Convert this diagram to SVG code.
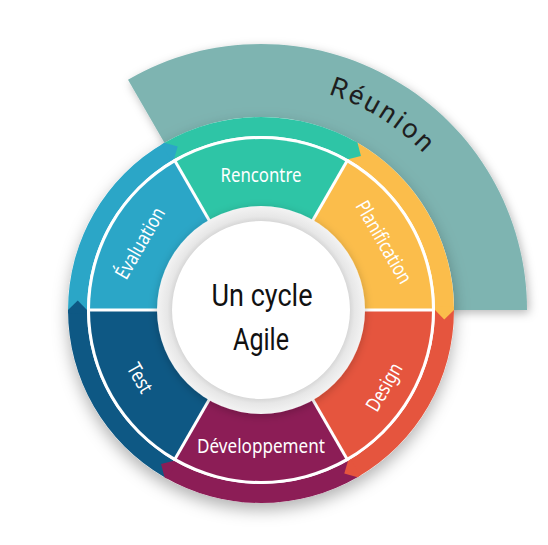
<svg xmlns="http://www.w3.org/2000/svg" xmlns:xlink="http://www.w3.org/1999/xlink" width="548" height="545" viewBox="0 0 548 545">
<style>
.lbl{font-family:"Noto Sans","Open Sans",sans-serif;font-size:20px;fill:#ffffff;text-anchor:middle}
.ctr{font-family:Roboto,"Liberation Sans",sans-serif;font-size:32px;fill:#111111;text-anchor:middle}
.reu{font-family:Roboto,"Liberation Sans",sans-serif;font-size:27px;fill:#1e1e1e;letter-spacing:2.6px}
.sep{stroke:#ffffff;stroke-width:3;fill:none}
</style>
<defs>
<filter id="shT" x="-20%" y="-20%" width="140%" height="140%"><feDropShadow dx="2" dy="3" stdDeviation="5" flood-color="#000" flood-opacity="0.28"/></filter>
<filter id="shW" x="-20%" y="-20%" width="140%" height="150%"><feDropShadow dx="0" dy="7" stdDeviation="8" flood-color="#000" flood-opacity="0.3"/></filter>
<filter id="shC" x="-20%" y="-20%" width="140%" height="140%"><feDropShadow dx="0" dy="2" stdDeviation="4" flood-color="#000" flood-opacity="0.22"/></filter>
<radialGradient id="ring" gradientUnits="userSpaceOnUse" cx="261" cy="310" r="104">
<stop offset="0.84" stop-color="#d2d2d2"/><stop offset="0.9" stop-color="#e7e7e7"/><stop offset="1" stop-color="#f3f3f3"/>
</radialGradient>
<path id="band" d="M164.5,142.86 A193,193 0 0 1 357.5,142.86 L348,159.31 A174,174 0 0 0 174,159.31 Z"/>
<path id="tip" d="M354.57,141.2 L357.5,142.86 L360.94,156.1 L348,159.31 L345.36,157.82 Z"/>
<path id="wedge" d="M261,310 L175.5,161.91 A171,171 0 0 1 346.5,161.91 Z"/>
<path id="reunionArc" d="M229.55,86.2 A226,226 0 0 1 475.9,240.2"/>
</defs>

<g id="reunion">
<path d="M261,310 L527,310 A266,266 0 0 0 128,79.64 Z" fill="#7eb4b1" filter="url(#shT)"/>
<text class="reu"><textPath xlink:href="#reunionArc" href="#reunionArc" startOffset="50%" text-anchor="middle">Réunion</textPath></text>
</g>

<circle cx="261" cy="310" r="193" fill="#ffffff" filter="url(#shW)"/>

<g id="connectors">
<use href="#band" fill="#2ec5a6"/>
<use href="#band" fill="#fbbd4b" transform="rotate(60 261 310)"/>
<use href="#band" fill="#e5553e" transform="rotate(120 261 310)"/>
<use href="#band" fill="#8c1d56" transform="rotate(180 261 310)"/>
<use href="#band" fill="#0e5884" transform="rotate(240 261 310)"/>
<use href="#band" fill="#2ba6c7" transform="rotate(300 261 310)"/>
<use href="#tip" fill="#2ec5a6"/>
<use href="#tip" fill="#fbbd4b" transform="rotate(60 261 310)"/>
<use href="#tip" fill="#e5553e" transform="rotate(120 261 310)"/>
<use href="#tip" fill="#8c1d56" transform="rotate(180 261 310)"/>
<use href="#tip" fill="#0e5884" transform="rotate(240 261 310)"/>
<use href="#tip" fill="#2ba6c7" transform="rotate(300 261 310)"/>
</g>

<circle cx="261" cy="310" r="174" fill="#ffffff"/>

<g id="rencontre">
<use href="#wedge" fill="#2ec5a6"/>
<text class="lbl" x="261" y="182" textLength="81" lengthAdjust="spacingAndGlyphs">Rencontre</text>
</g>
<g id="planification">
<use href="#wedge" fill="#fbbd4b" transform="rotate(60 261 310)"/>
<text class="lbl" transform="translate(384,242) rotate(60)" y="7" textLength="92" lengthAdjust="spacingAndGlyphs">Planification</text>
</g>
<g id="design">
<use href="#wedge" fill="#e5553e" transform="rotate(120 261 310)"/>
<text class="lbl" transform="translate(384,387) rotate(-60)" y="7" textLength="52" lengthAdjust="spacingAndGlyphs">Design</text>
</g>
<g id="developpement">
<use href="#wedge" fill="#8c1d56" transform="rotate(180 261 310)"/>
<text class="lbl" x="261" y="453" textLength="128" lengthAdjust="spacingAndGlyphs">Développement</text>
</g>
<g id="test">
<use href="#wedge" fill="#0e5884" transform="rotate(240 261 310)"/>
<text class="lbl" transform="translate(140,378) rotate(60)" y="7" textLength="31" lengthAdjust="spacingAndGlyphs">Test</text>
</g>
<g id="evaluation">
<use href="#wedge" fill="#2ba6c7" transform="rotate(300 261 310)"/>
<text class="lbl" transform="translate(140,243) rotate(-60)" y="7" textLength="79" lengthAdjust="spacingAndGlyphs">Évaluation</text>
</g>

<g id="separators">
<line class="sep" x1="361" y1="310" x2="435" y2="310"/>
<line class="sep" x1="311" y1="223.4" x2="348" y2="159.31"/>
<line class="sep" x1="211" y1="223.4" x2="174" y2="159.31"/>
<line class="sep" x1="161" y1="310" x2="87" y2="310"/>
<line class="sep" x1="211" y1="396.6" x2="174" y2="460.69"/>
<line class="sep" x1="311" y1="396.6" x2="348" y2="460.69"/>
</g>

<g id="center">
<circle cx="261" cy="310" r="104" fill="url(#ring)" filter="url(#shC)"/>
<circle cx="261" cy="310" r="89" fill="#ffffff"/>
<text class="ctr" x="262" y="306" textLength="101" lengthAdjust="spacingAndGlyphs">Un cycle</text>
<text class="ctr" x="261" y="350" textLength="56" lengthAdjust="spacingAndGlyphs">Agile</text>
</g>
</svg>
